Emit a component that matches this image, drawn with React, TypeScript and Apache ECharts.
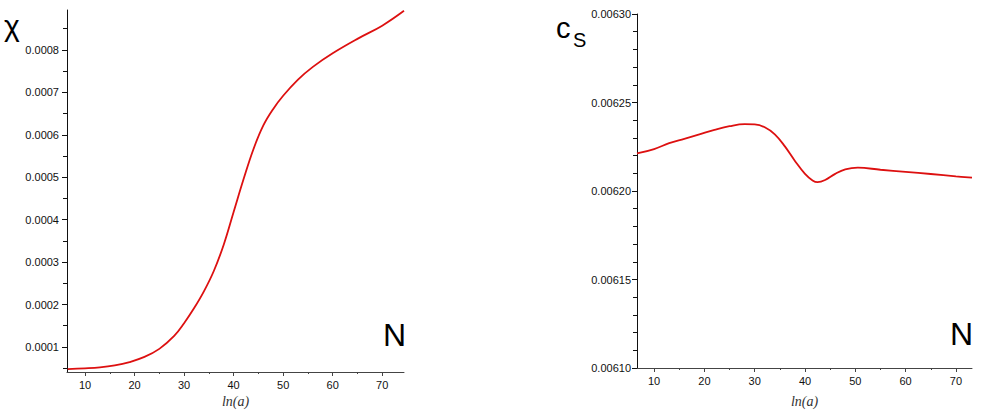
import React, { useEffect, useRef } from "react";
import * as echarts from "echarts";

// χ vs ln(a)
const chiData: [number, number][] = [
  [6.5, 0.0000478], [10, 0.0000495], [13, 0.0000518], [16, 0.0000565], [19, 0.0000645],
  [22, 0.0000765], [25, 0.0000955], [28, 0.000126], [30, 0.000156], [32, 0.000191],
  [34, 0.000231], [36, 0.000279], [38, 0.000341], [40, 0.000418], [42, 0.000495],
  [44, 0.000566], [46, 0.000622], [48, 0.000661], [50, 0.000692], [53, 0.00073],
  [56, 0.00076], [60, 0.000792], [65, 0.000826], [70, 0.000857], [74.4, 0.000892],
];

// c_S vs ln(a)
const csData: [number, number][] = [
  [6.6, 0.0062212], [10, 0.0062237], [13, 0.006227], [16, 0.0062295], [19, 0.006232],
  [22, 0.0062345], [25, 0.0062366], [28, 0.0062378], [30, 0.0062376], [32, 0.006236],
  [34, 0.006232], [36, 0.0062252], [38, 0.006217], [40, 0.0062097], [41.5, 0.006206],
  [42.5, 0.006205], [44, 0.0062062], [46, 0.0062097], [48, 0.0062122], [50.5, 0.0062132],
  [55, 0.006212], [60, 0.0062108], [65, 0.0062096], [70, 0.0062083], [73.2, 0.0062075],
];

const xTickLabels = [10, 20, 30, 40, 50, 60, 70];
const xMinorTicks = [15, 25, 35, 45, 55, 65];
const chiTickLabels = [0.0001, 0.0002, 0.0003, 0.0004, 0.0005, 0.0006, 0.0007, 0.0008];
const chiMinorTicks = [0.00005, 0.00015, 0.00025, 0.00035, 0.00045, 0.00055, 0.00065, 0.00075, 0.00085];
const csTickLabels = [0.0061, 0.00615, 0.0062, 0.00625, 0.0063];
const csMinorTicks = [
  0.00611, 0.00612, 0.00613, 0.00614, 0.00616, 0.00617, 0.00618, 0.00619,
  0.00621, 0.00622, 0.00623, 0.00624, 0.00626, 0.00627, 0.00628, 0.00629,
];

const LINE = "#dd1010";
const AXIS = "#111";
const XAXIS = "#444";
const LABEL = { fontFamily: "Liberation Sans", fontSize: 11, color: "#111" };

export default function App() {
  const ref = useRef<HTMLDivElement>(null);
  useEffect(() => {
    const chart = echarts.init(ref.current!, undefined, { renderer: "svg" });
    const xMain = (grid: number, min: number, max: number, gap: number) => ({
      type: "value", gridIndex: grid, min, max, position: "bottom",
      axisLine: { show: true, lineStyle: { color: XAXIS, width: 1 } },
      axisTick: { show: true, length: 4, customValues: xTickLabels, lineStyle: { color: XAXIS } },
      axisLabel: { ...LABEL, margin: 7, customValues: xTickLabels, formatter: (v: number) => String(Math.round(v)) },
      splitLine: { show: false },
      name: "ln(a)", nameLocation: "middle", nameGap: gap,
      nameTextStyle: { fontFamily: "Liberation Serif", fontStyle: "italic", fontSize: 14, color: "#333" },
    });
    const xMinor = (grid: number, min: number, max: number) => ({
      type: "value", gridIndex: grid, min, max, position: "bottom",
      axisLine: { show: false },
      axisTick: { show: true, length: 2, customValues: xMinorTicks, lineStyle: { color: XAXIS } },
      axisLabel: { show: false }, splitLine: { show: false },
    });
    const yMain = (grid: number, min: number, max: number, labels: number[], dec: number, margin: number) => ({
      type: "value", gridIndex: grid, min, max, position: "left",
      axisLine: { show: true, lineStyle: { color: AXIS, width: 1 } },
      axisTick: { show: true, length: 5, customValues: labels, lineStyle: { color: AXIS } },
      axisLabel: { ...LABEL, margin, customValues: labels, formatter: (v: number) => v.toFixed(dec) },
      splitLine: { show: false },
    });
    const yMinor = (grid: number, min: number, max: number, ticks: number[]) => ({
      type: "value", gridIndex: grid, min, max, position: "left",
      axisLine: { show: false },
      axisTick: { show: true, length: 4, customValues: ticks, lineStyle: { color: AXIS } },
      axisLabel: { show: false }, splitLine: { show: false },
    });
    const txt = (text: string, x: number, y: number, size: number) => ({
      type: "text", x, y, silent: true,
      style: { text, fill: "#000", font: `${size}px "Liberation Sans"`, verticalAlign: "middle", align: "left" },
    });
    chart.setOption({
      animation: false,
      backgroundColor: "#fff",
      grid: [
        { left: 67, top: 10, width: 337, height: 362 },
        { left: 637, top: 14, width: 335, height: 354 },
      ],
      xAxis: [
        xMain(0, 6.36, 74.4, 22),
        xMain(1, 6.6, 73.2, 26),
        xMinor(0, 6.36, 74.4),
        xMinor(1, 6.6, 73.2),
      ],
      yAxis: [
        yMain(0, 0.000041, 0.000894, chiTickLabels, 4, 8),
        yMain(1, 0.0061, 0.0063, csTickLabels, 5, 6),
        yMinor(0, 0.000041, 0.000894, chiMinorTicks),
        yMinor(1, 0.0061, 0.0063, csMinorTicks),
      ],
      series: [
        {
          type: "line", xAxisIndex: 0, yAxisIndex: 0, data: chiData, smooth: 0.4,
          showSymbol: false, symbol: "none", lineStyle: { color: LINE, width: 1.8 },
        },
        {
          type: "line", xAxisIndex: 1, yAxisIndex: 1, data: csData, smooth: 0.4,
          showSymbol: false, symbol: "none", lineStyle: { color: LINE, width: 1.8 },
        },
      ],
      graphic: [
        txt("χ", 4, 25, 30),
        txt("N", 383, 335, 32),
        txt("c", 556, 28, 29),
        txt("S", 573, 40, 20),
        txt("N", 950, 334, 32),
      ],
    });
    return () => chart.dispose();
  }, []);
  return <div ref={ref} style={{ position: "absolute", left: 0, top: 0, width: 981, height: 414 }} />;
}
